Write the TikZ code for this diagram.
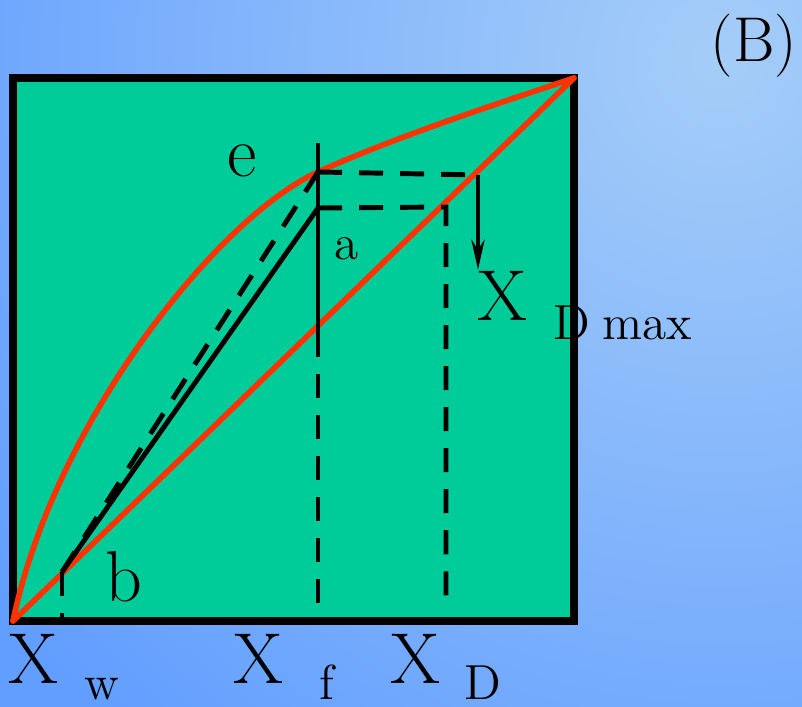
\documentclass[tikz,border=0pt]{standalone}
\usepackage{tikz}
\usetikzlibrary{arrows.meta, positioning}
\definecolor{bgblue}{RGB}{98, 158, 255}
\definecolor{bglight}{RGB}{165, 205, 248}
\definecolor{panelgreen}{RGB}{0, 204, 153}
\definecolor{curvered}{RGB}{255, 51, 0}
\tikzset{
  panel/.style={draw=black, line width=2pt},
  redline/.style={draw=curvered, line width=1.6pt, line cap=round, line join=round},
  blackline/.style={draw=black, line width=1.4pt},
  dashline/.style={blackline, dash pattern=on 0.24cm off 0.17cm},
  downarrow/.style={blackline, -{Stealth[length=3mm, width=1.3mm]}},
  biglabel/.style={anchor=base, inner sep=0pt, font=\fontsize{20.5}{24}\selectfont},
  smalllabel/.style={anchor=base, inner sep=0pt, font=\fontsize{14}{17}\selectfont},
  titlelabel/.style={anchor=base, inner sep=0pt, font=\fontsize{18}{22}\selectfont}
}

\begin{document}
\begin{tikzpicture}[x=0.01cm, y=-0.01cm]

  \useasboundingbox (0,0) rectangle (802,707);

  % Background
  \begin{scope}
    \clip (0,0) rectangle (802,707);
    \fill[bgblue] (0,0) rectangle (802,707);
    \shade[inner color=bglight, outer color=bgblue] (720,60) circle[radius=9cm];
  \end{scope}

  % Panel
  \coordinate (bl) at (13,621);
  \coordinate (tr) at (574,78);
  \fill[panelgreen] (bl) rectangle (tr);

  % Labels
  \node[titlelabel] (title) at (754,62) {(B)};
  \node[biglabel] (elabel) at (242,177) {e};
  \node[smalllabel] (alabel) at (347,260) {a};
  \node[biglabel] (blabel) at (124,602) {b};
  \node[biglabel] (xw) at (33,684) {X};
  \node[smalllabel] (xwsub) at (102,700) {w};
  \node[biglabel] (xf) at (258,684) {X};
  \node[smalllabel] (xfsub) at (327,700) {f};
  \node[biglabel] (xd) at (415,684) {X};
  \node[smalllabel] (xdsub) at (483,700) {D};
  \node[biglabel] (xdmax) at (502,321) {X};
  \node[smalllabel] (xdmaxsub) at (572,340) {D};
  \node[smalllabel] (maxlabel) at (647,340) {max};

  \draw[panel] (bl) rectangle (tr);

  % Points
  \coordinate (e) at (318,172);
  \coordinate (a) at (318,208);
  \coordinate (b) at (62,572);
  \coordinate (etop) at (318,143);
  \coordinate (emid) at (318,333);
  \coordinate (fbase) at (318,612);
  \coordinate (d) at (446,207);
  \coordinate (dbase) at (446,612);
  \coordinate (m) at (478,175);
  \coordinate (mtip) at (478,270);
  \coordinate (bbase) at (62,621);

  % Curves
  \draw[redline] (bl) -- (tr);
  \draw[redline] (bl) .. controls (55,420) and (220,216) .. (e)
    .. controls (400,135) and (500,103) .. (tr);

  \draw[blackline] (etop) -- (emid);
  \draw[dashline] (emid) -- (fbase);
  \draw[blackline] (b) -- (a);
  \draw[dashline] (b) -- (e);
  \draw[dashline] (b) -- (bbase);
  \draw[dashline] (a) -- (d) -- (dbase);
  \draw[dashline] (e) -- (m);
  \draw[downarrow] (m) -- (mtip);

\end{tikzpicture}
\end{document}
